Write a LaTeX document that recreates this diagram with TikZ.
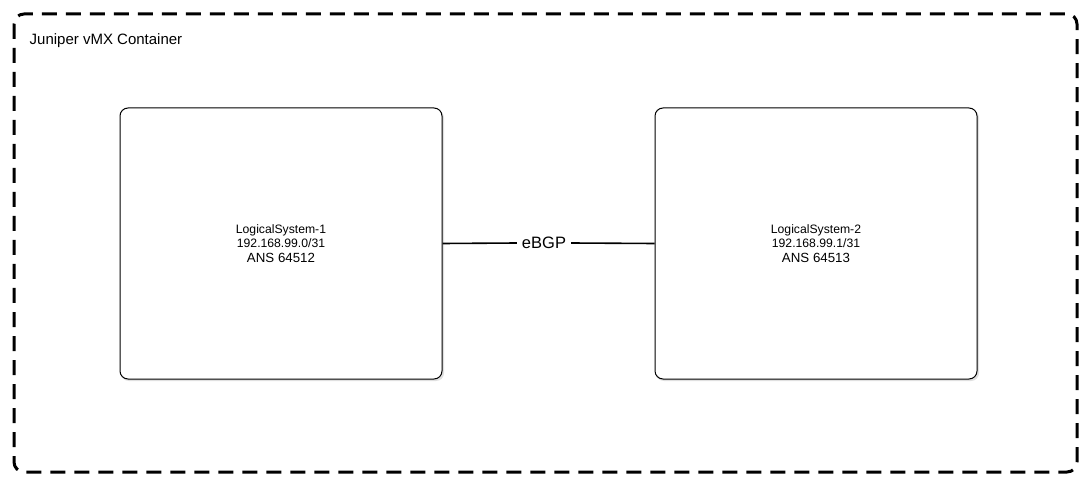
\documentclass[tikz,border=0pt]{standalone}
\usepackage{fontspec}
\setmainfont{Liberation Sans}
\begin{document}
\begin{tikzpicture}[x=1pt,y=-1pt,
  sysbox/.style={draw=black, line width=1pt, rounded corners=8pt, fill=white},
  lbl/.style={font=\fontsize{12.2}{14}\selectfont, align=center, inner sep=0pt}]
\useasboundingbox (0,0) rectangle (1092,486);
\fill[white] (0,0) rectangle (1092,486);
\draw[line width=3pt, dash pattern=on 15pt off 9pt, rounded corners=10pt] (14,14) rectangle (1077,472);
\node[anchor=west, inner sep=0pt, font=\fontsize{15}{18}\selectfont] (title) at (29.5,41) {Juniper vMX Container};
% shadows
\fill[black!12, rounded corners=8pt] (121,110) rectangle (444,381);
\fill[black!12, rounded corners=8pt] (656,110) rectangle (979,381);
\node[sysbox, minimum width=322pt, minimum height=271pt, inner sep=0pt] (ls1) at (281,243.5) {};
\node[sysbox, minimum width=322pt, minimum height=271pt, inner sep=0pt] (ls2) at (816,243.5) {};
\node[lbl] (t1) at (281,244) {LogicalSystem-1\\192.168.99.0/31\\[1pt]{\fontsize{13.3}{15}\selectfont ANS 64512}};
\node[lbl] (t2) at (816,244) {LogicalSystem-2\\192.168.99.1/31\\[1pt]{\fontsize{13.3}{15}\selectfont ANS 64513}};
\node[fill=white, inner sep=0pt, minimum width=54pt, minimum height=16pt, font=\fontsize{16.5}{18}\selectfont] (bgp) at (544,243) {eBGP};
\draw[line width=1.6pt] (ls1.east) -- (bgp.west);
\draw[line width=1.6pt] (bgp.east) -- (ls2.west);
\end{tikzpicture}
\end{document}
